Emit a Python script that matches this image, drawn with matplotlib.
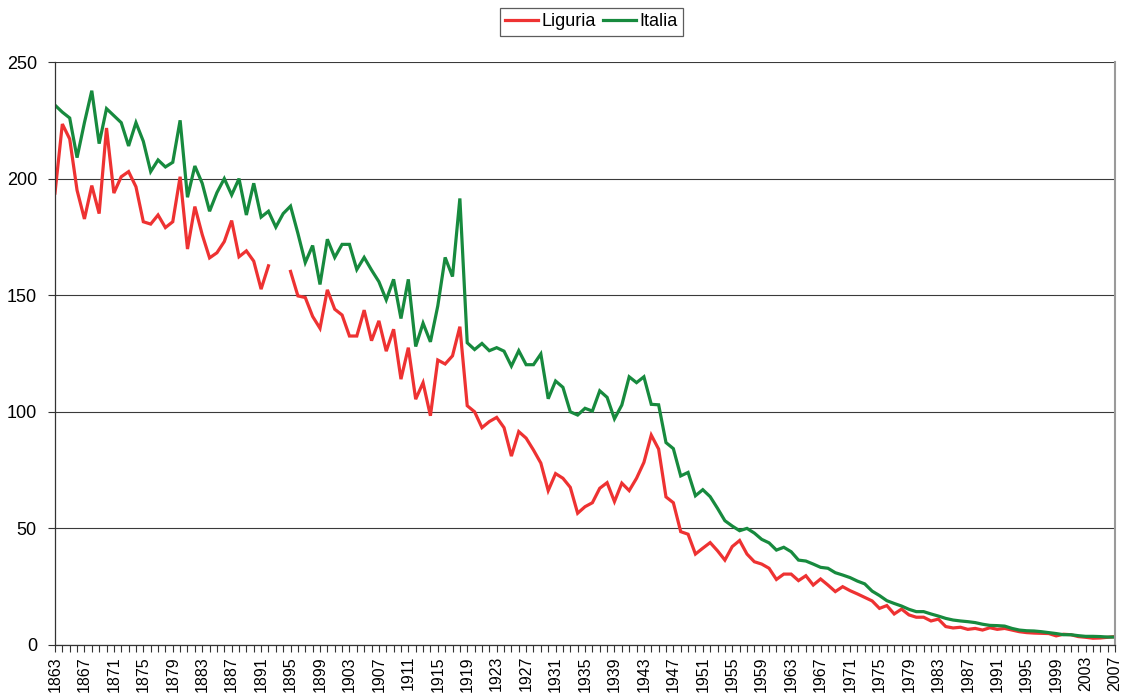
import numpy as np
import matplotlib
matplotlib.use("Agg")
import matplotlib.pyplot as plt
from matplotlib.ticker import MultipleLocator

plt.rcParams['font.family'] = ['Liberation Sans', 'DejaVu Sans']

years = list(range(1863, 2008))

liguria = [
    193.8, 223.4, 217, 195, 182.7, 197, 185, 221.7, 193.8, 200.8,   # 1863-1872
    203, 196.5, 181.5, 180.5, 184.4, 179, 181.5, 200.8, 169.8, 188,   # 1873-1882
    176, 166, 168.2, 173, 182, 166.5, 169, 164.6, 152.6, 162.6,       # 1883-1892
    np.nan, np.nan, 160.2, 149.7, 149, 140.9, 135.8, 152.3, 144, 141.5,  # 1893-1902
    132.5, 132.5, 143.6, 130.5, 139, 126, 135.4, 114, 127.5, 105.4,   # 1903-1912
    112.5, 98.3, 122.2, 120.5, 124, 136.5, 102.6, 100, 93.2, 95.8,    # 1913-1922
    97.6, 93.2, 81, 91.5, 88.7, 83.6, 78, 66.2, 73.5, 71.5,           # 1923-1932
    67.6, 56.5, 59.3, 61, 67.2, 69.6, 61.5, 69.4, 66.2, 71.5,         # 1933-1942
    78.3, 90, 84, 63.5, 61, 48.6, 47.5, 39, 41.5, 43.9,               # 1943-1952
    40.4, 36.4, 42.2, 44.8, 39, 35.7, 34.7, 32.9, 28.1, 30.4,         # 1953-1962
    30.4, 27.6, 29.7, 25.7, 28.3, 25.7, 22.9, 25, 23.3, 21.9,         # 1963-1972
    20.4, 18.9, 15.7, 16.9, 13.3, 15.4, 12.9, 11.9, 11.9, 10.3,       # 1973-1982
    11.1, 7.9, 7.3, 7.6, 6.7, 7.1, 6.4, 7.4, 6.7, 7.1,                # 1983-1992
    6.4, 5.7, 5.3, 5.1, 5, 4.9, 3.9, 4.6, 4.4, 3.6,                   # 1993-2002
    3.3, 2.9, 3.0, 3.3, 3.6,                                          # 2003-2007
]

italia = [
    231.5, 228.5, 226, 209, 224, 237.7, 215, 230, 227, 224,           # 1863-1872
    214, 224, 216, 203, 208, 205, 207, 225, 192, 205.4,               # 1873-1882
    198, 186, 194, 200, 193, 200, 184.4, 198, 183.5, 186,             # 1883-1892
    179.2, 185, 188.2, 176.5, 164, 171.3, 154.6, 174, 166.2, 171.8,   # 1893-1902
    171.8, 161, 166.2, 160.8, 155.8, 148, 156.8, 140, 156.8, 128,     # 1903-1912
    138, 130, 145.4, 166.2, 158, 191.5, 129.6, 126.7, 129.3, 126.2,   # 1913-1922
    127.5, 126, 119.6, 126.2, 120.2, 120.2, 124.8, 105.6, 113.2, 110.5,  # 1923-1932
    100, 98.6, 101.5, 100.3, 109, 106.2, 97, 102.9, 115, 112.5,       # 1933-1942
    115, 103.2, 103, 86.8, 84.2, 72.5, 74, 64, 66.6, 63.6,            # 1943-1952
    58.6, 53.3, 51, 49, 50, 48, 45.3, 43.8, 40.7, 41.9,               # 1953-1962
    40, 36.4, 36, 34.7, 33.3, 32.9, 31, 30, 28.9, 27.4,               # 1963-1972
    26.2, 23.1, 21.2, 19, 17.8, 16.7, 15.3, 14.3, 14.3, 13.3,         # 1973-1982
    12.4, 11.4, 10.7, 10.3, 10, 9.6, 8.9, 8.4, 8.3, 8.1,              # 1983-1992
    7.1, 6.4, 6.1, 6.0, 5.7, 5.3, 4.9, 4.4, 4.4, 4.0,                 # 1993-2002
    3.7, 3.7, 3.6, 3.4, 3.4,                                          # 2003-2007
]

series_names = ["Liguria", "Italia"]
series_colors = ["#EE3232", "#178A3E"]
y_ticks = [0, 50, 100, 150, 200, 250]
x_label_years = list(range(1863, 2008, 4))

fig = plt.figure(figsize=(11.22, 7.0), dpi=100)
ax = fig.add_axes([0.049, 0.0786, 0.9448, 0.8328])

for vals, name, col in zip([liguria, italia], series_names, series_colors):
    ax.plot(years, vals, color=col, lw=2.3, label=name, solid_joinstyle='miter')

ax.set_xlim(1863, 2007)
ax.set_ylim(0, 250)
ax.set_yticks(y_ticks)
ax.set_xticks(x_label_years)
ax.set_xticklabels([str(y) for y in x_label_years], rotation=90)
ax.xaxis.set_minor_locator(MultipleLocator(1))

ax.yaxis.grid(True, color='#3a3a3a', lw=0.8)
ax.set_axisbelow(True)

ax.tick_params(axis='x', which='major', labelsize=11.5, length=5, width=0.8,
               color='#333333', pad=3)
ax.tick_params(axis='x', which='minor', length=5, width=0.8, color='#333333')
ax.tick_params(axis='y', which='major', labelsize=13, length=5, width=0.8,
               color='#333333', pad=8)

ax.spines['top'].set_visible(False)
ax.spines['right'].set_color('#9a9a9a')
ax.spines['right'].set_linewidth(1.5)
ax.spines['left'].set_color('#333333')
ax.spines['bottom'].set_color('#333333')
ax.spines['left'].set_linewidth(0.9)
ax.spines['bottom'].set_linewidth(0.9)

leg = fig.legend(loc='upper center', bbox_to_anchor=(0.527, 0.988), ncol=2,
                 frameon=True, fancybox=False, fontsize=13, handlelength=1.85,
                 handletextpad=0.2, columnspacing=0.35, borderpad=0.28,
                 borderaxespad=0.0)
leg.get_frame().set_edgecolor('#333333')
leg.get_frame().set_linewidth(0.9)

fig.savefig("out.png", dpi=100)
